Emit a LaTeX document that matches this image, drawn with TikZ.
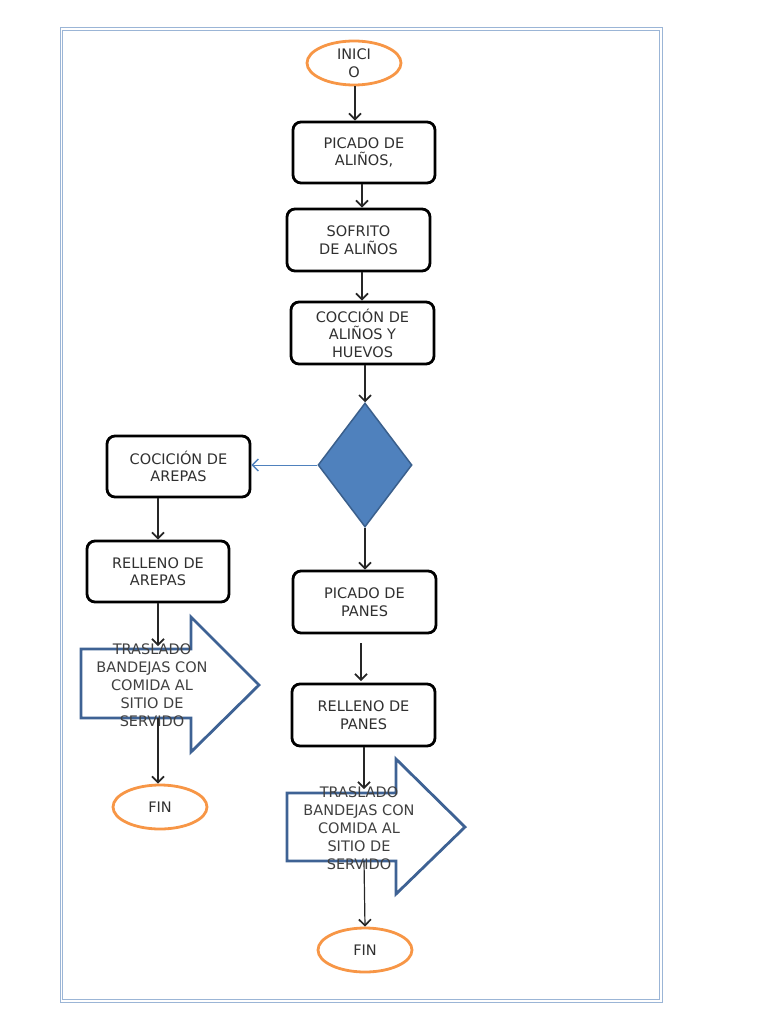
\documentclass[tikz,border=0pt]{standalone}
\usepackage{fontspec}
\setmainfont{DejaVu Sans}
\usetikzlibrary{shapes.geometric,arrows.meta}
\definecolor{frameblue}{HTML}{9BB5D6}
\definecolor{orangeE}{HTML}{F79646}
\definecolor{diafill}{HTML}{4F81BD}
\definecolor{diaedge}{HTML}{3A5F8C}
\definecolor{arrowedge}{HTML}{3E6294}
\definecolor{txt}{HTML}{303030}
\begin{document}
\begin{tikzpicture}[x=1pt,y=-1pt,
  box/.style={draw=black, line width=2.8pt, rounded corners=8pt, fill=white, align=center, inner sep=0pt, font=\fontsize{14.5}{17.5}\selectfont, text=txt},
  term/.style={ellipse, draw=orangeE, line width=2.8pt, minimum width=94pt, minimum height=44pt, inner sep=0pt, align=center, font=\fontsize{14.5}{17.5}\selectfont, text=txt},
  conn/.style={draw=black!85, line width=1.2pt, -{Straight Barb[length=6pt,width=12pt,line width=1.7pt]}},
  bluearrow/.style={draw=diafill, line width=1pt, -{Straight Barb[length=6pt,width=12pt,line width=1.4pt]}},
  bigarrow/.style={draw=arrowedge, line width=2.8pt, line join=miter},
  arrtext/.style={align=center, inner sep=0pt, font=\fontsize{14.5}{18}\selectfont, text=black!75},
  frame/.style={draw=frameblue, line width=1pt}
]
\useasboundingbox (0,0) rectangle (768,1024);
% frame
\draw[frame] (60,28) rectangle (662,1002);
\draw[frame] (62.5,30.5) rectangle (659.5,999.5);

% big arrow outlines
\draw[bigarrow] (81,649) -- (191,649) -- (191,617) -- (259,685) -- (191,752) -- (191,718) -- (81,718) -- cycle;
\draw[bigarrow] (287,793) -- (396,793) -- (396,759) -- (465,827) -- (396,894) -- (396,861) -- (287,861) -- cycle;

% nodes
\node[term] (inicio) at (354,63) {INICI\\O};
\node[box, minimum width=142pt, minimum height=61pt] (picA) at (364,152.5) {PICADO DE\\ALIÑOS,};
\node[box, minimum width=143pt, minimum height=62pt] (sof) at (358.5,240) {SOFRITO\\DE ALIÑOS};
\node[box, minimum width=143pt, minimum height=62pt] (coc) at (362.5,333) {COCCIÓN DE\\ALIÑOS Y\\HUEVOS};
\node[diamond, fill=diafill, draw=diaedge, line width=1.5pt, minimum width=94pt, minimum height=124pt, inner sep=0pt] (dec) at (365,465) {};
\node[box, minimum width=143pt, minimum height=61pt] (cocA) at (178.5,466.5) {COCICIÓN DE\\AREPAS};
\node[box, minimum width=142pt, minimum height=61pt] (relA) at (158,571.5) {RELLENO DE\\AREPAS};
\node[box, minimum width=143pt, minimum height=62pt] (picP) at (364.5,602) {PICADO DE\\PANES};
\node[box, minimum width=143pt, minimum height=62pt] (relP) at (363.5,715) {RELLENO DE\\PANES};
\node[arrtext] (trA) at (152,685) {TRASLADO\\BANDEJAS CON\\COMIDA AL\\SITIO DE\\SERVIDO};
\node[arrtext] (trP) at (359,828) {TRASLADO\\BANDEJAS CON\\COMIDA AL\\SITIO DE\\SERVIDO};
\node[term] (finA) at (160,807) {FIN};
\node[term] (finP) at (365,950) {FIN};

\coordinate (arrAtop) at (158,646);
\coordinate (arrAbot) at (158,718);
\coordinate (arrPtop) at (364,789);
\coordinate (arrPbot) at (364,861);
\coordinate (picPtop) at (361,643);
\coordinate (picPin) at (361,681);

% connectors
\draw[conn] (inicio.south -| 355,0) -- (picA.north -| 355,0);
\draw[conn] (picA.south -| 362,0) -- (sof.north -| 362,0);
\draw[conn] (sof.south -| 362,0) -- (coc.north -| 362,0);
\draw[conn] (coc.south -| 365,0) -- (dec.north);
\draw[bluearrow] (dec.west) -- (cocA.east |- dec.west);
\draw[conn] (cocA.south -| 158,0) -- (relA.north);
\draw[conn] (relA.south) -- (arrAtop);
\draw[conn] (arrAbot) -- (finA.north -| 158,0);
\draw[conn] (dec.south) -- (picP.north -| 365,0);
\draw[conn] (picPtop) -- (picPin);
\draw[conn] (relP.south -| 364,0) -- (arrPtop);
\draw[conn] (arrPbot) -- (finP.north);
\end{tikzpicture}
\end{document}
